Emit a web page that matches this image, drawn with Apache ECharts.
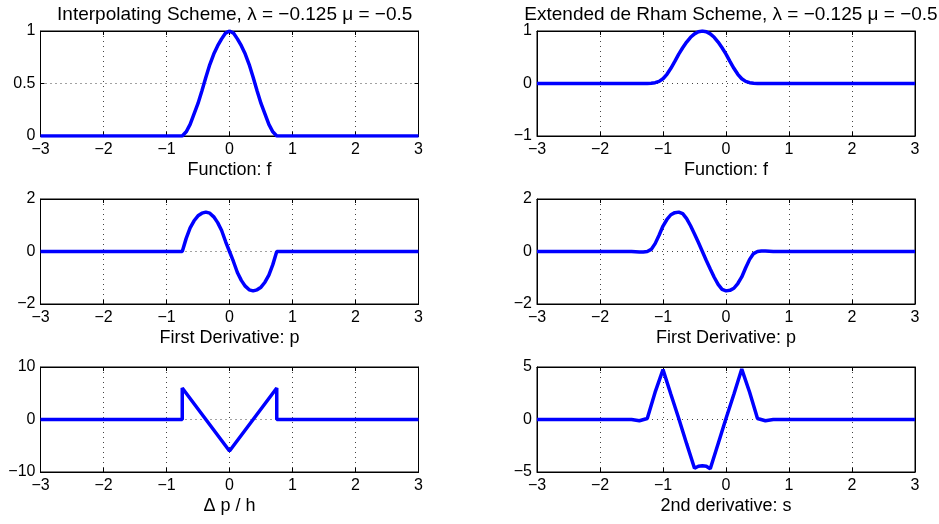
<!DOCTYPE html>
<html>
<head>
<meta charset="utf-8">
<script src="https://cdn.jsdelivr.net/npm/echarts@6/dist/echarts.min.js"></script>
<style>
html,body{margin:0;padding:0;background:#fff}
#main{width:939px;height:524px}
</style>
</head>
<body>
<div id="main"></div>
<script>
// interpolating scheme (left column)
var xL=[-3,-0.75,-0.6875,-0.625,-0.5625,-0.5,-0.4375,-0.375,-0.3125,-0.25,-0.1875,-0.125,-0.0625,0,0.0625,0.125,0.1875,0.25,0.3125,0.375,0.4375,0.5,0.5625,0.625,0.6875,0.75,3];
var fL=[0,0,0.04,0.11,0.21,0.31,0.43,0.56,0.68,0.78,0.86,0.925,0.98,1,0.98,0.925,0.86,0.78,0.68,0.56,0.43,0.31,0.21,0.11,0.04,0,0];
var pL=[0,0,0.5,0.9,1.17,1.36,1.46,1.5,1.46,1.32,1.1,0.8,0.38,0,-0.38,-0.8,-1.1,-1.32,-1.46,-1.5,-1.46,-1.36,-1.17,-0.9,-0.5,0,0];
var xD=[-3,-0.75,-0.75,0,0.75,0.75,3];
var dpD=[0,0,6,-6,6,0,0];

// extended de Rham scheme (right column)
var xR=[-3,-1.5,-1.4375,-1.375,-1.3125,-1.25,-1.1875,-1.125,-1.0625,-1,-0.9375,-0.875,-0.8125,-0.75,-0.6875,-0.625,-0.5625,-0.5,-0.4375,-0.375,-0.3125,-0.25,-0.1875,-0.125,-0.0625,0,0.0625,0.125,0.1875,0.25,0.3125,0.375,0.4375,0.5,0.5625,0.625,0.6875,0.75,3];
var fR=[0,0,0,0,0,0,0.004,0.015,0.04,0.09,0.175,0.29,0.42,0.56,0.68,0.79,0.88,0.945,0.985,1,0.985,0.945,0.88,0.79,0.68,0.56,0.42,0.29,0.175,0.09,0.04,0.015,0.004,0,0,0,0,0,0];
var pR=[0,0,-0.01,-0.02,-0.015,0,0.08,0.3,0.62,0.97,1.22,1.4,1.48,1.5,1.44,1.25,0.98,0.67,0.34,0,-0.34,-0.67,-0.98,-1.25,-1.44,-1.5,-1.48,-1.4,-1.22,-0.97,-0.62,-0.3,-0.08,0,0.015,0.02,0.01,0,0];
var xS=[-3,-1.5,-1.375,-1.25,-1.125,-1,-0.875,-0.75,-0.625,-0.5,-0.4375,-0.375,-0.3125,-0.25,-0.125,0,0.125,0.25,0.375,0.5,0.625,0.75,3];
var sS=[0,0,-0.12,0.1,2.6,4.75,2.4,0.1,-2.3,-4.65,-4.45,-4.4,-4.45,-4.7,-2.3,0.1,2.4,4.8,2.6,0.1,-0.12,0,0];

var titles=["Interpolating Scheme, \u03bb = \u22120.125 \u03bc = \u22120.5","Extended de Rham Scheme, \u03bb = \u22120.125 \u03bc = \u22120.5"];
var names=["Function: f","Function: f","First Derivative: p","First Derivative: p","\u0394 p / h","2nd derivative: s"];
var yRange=[[0,1,0.5],[-1,1,1],[-2,2,2],[-2,2,2],[-10,10,10],[-5,5,5]];
var xs=[xL,xR,xL,xR,xD,xS], ys=[fL,fR,pL,pR,dpD,sS];

var font="Liberation Sans, Arial, Helvetica, sans-serif";
var pos=[[40.5,31],[537,31],[40.5,199],[537,199],[40.5,367],[537,367]];
function fmt(v){return String(v).replace("-","\u2212")}
function zip(a,b){return a.map(function(v,i){return [v,b[i]]})}

var grid=[],xAxis=[],yAxis=[],series=[];
pos.forEach(function(p,i){
    grid.push({left:p[0],top:p[1],width:378,height:105,show:true,borderColor:"#000",borderWidth:1});
    var tick={show:true,inside:true,length:4,lineStyle:{color:"#000"}};
    var line={show:true,onZero:false,lineStyle:{color:"#000"}};
    var split={show:true,lineStyle:{color:"#444",type:[1,4],width:1}};
    xAxis.push({type:"value",gridIndex:i,min:-3,max:3,interval:1,position:"bottom",
        axisLine:line,axisTick:tick,splitLine:split,
        axisLabel:{formatter:fmt,color:"#000",fontSize:16,fontFamily:font,margin:6},
        name:names[i],nameLocation:"middle",nameGap:25,
        nameTextStyle:{color:"#000",fontSize:18,fontFamily:font}});
    xAxis.push({type:"value",gridIndex:i,min:-3,max:3,interval:1,position:"top",
        axisLine:line,axisTick:tick,axisLabel:{show:false},splitLine:{show:false}});
    var r=yRange[i];
    yAxis.push({type:"value",gridIndex:i,min:r[0],max:r[1],interval:r[2],position:"left",
        axisLine:line,axisTick:tick,splitLine:split,
        axisLabel:{formatter:fmt,color:"#000",fontSize:16,fontFamily:font,margin:5}});
    yAxis.push({type:"value",gridIndex:i,min:r[0],max:r[1],interval:r[2],position:"right",
        axisLine:line,axisTick:tick,axisLabel:{show:false},splitLine:{show:false}});
    series.push({type:"line",xAxisIndex:2*i,yAxisIndex:2*i,data:zip(xs[i],ys[i]),
        showSymbol:false,lineStyle:{color:"#0000ff",width:3.5},itemStyle:{color:"#0000ff"},animation:false});
});

var chart=echarts.init(document.getElementById("main"));
chart.setOption({
    backgroundColor:"#fff",
    animation:false,
    title:[
        {text:titles[0],left:229.7,top:0,textAlign:"center",textStyle:{fontSize:19,fontWeight:"normal",color:"#000",fontFamily:font}},
        {text:titles[1],left:726,top:0,textAlign:"center",textStyle:{fontSize:19,fontWeight:"normal",color:"#000",fontFamily:font}}
    ],
    grid:grid,xAxis:xAxis,yAxis:yAxis,series:series
});
</script>
</body>
</html>
